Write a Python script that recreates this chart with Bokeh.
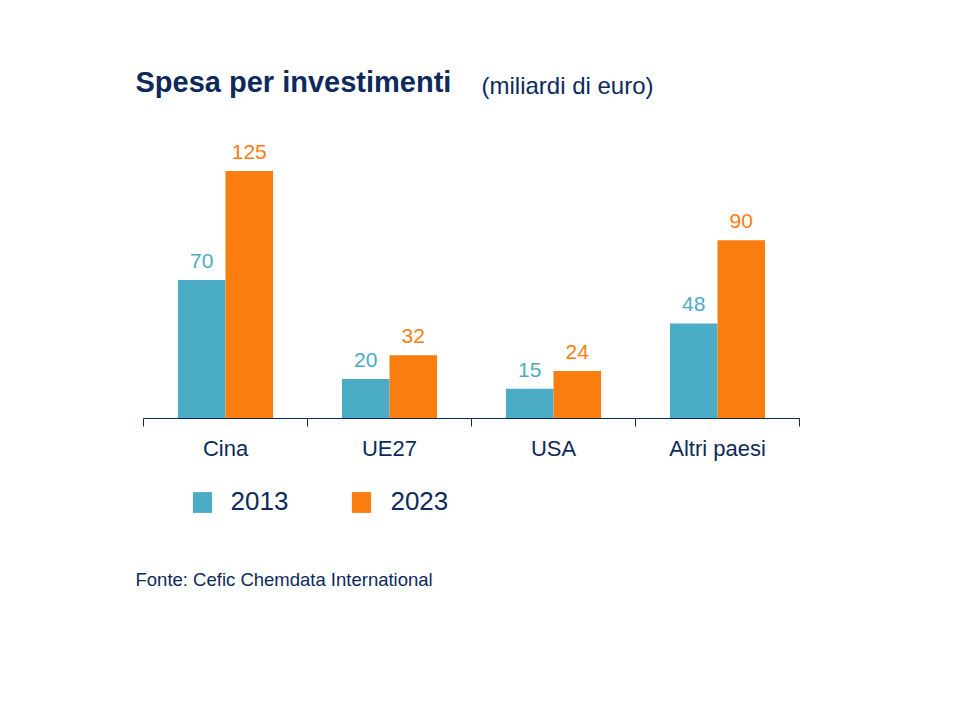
from bokeh.plotting import figure
from bokeh.models import (Range1d, LinearAxis, FixedTicker,
                          ColumnDataSource, Label, Legend, LegendItem)
from bokeh.core.properties import value
from bokeh.embed import file_html
from bokeh.resources import INLINE

# ---- data ----
categories = ["Cina", "UE27", "USA", "Altri paesi"]
years = ["2013", "2023"]
values_2013 = [70, 20, 15, 48]
values_2023 = [125, 32, 24, 90]

title_text = "Spesa per investimenti"
subtitle_text = "(miliardi di euro)"
source_text = "Fonte: Cefic Chemdata International"

# ---- style ----
TEAL = "#4BACC6"
ORANGE = "#FA7D10"
NAVY = "#0E2A5C"
FONT = "Liberation Sans"

W, H = 960, 720
AX_L, AX_R, BASE_Y = 143, 799, 418   # pixel positions of the category axis
PX_PER_UNIT = 1.98
n = len(categories)
cat_w = (AX_R - AX_L) / n


def xd(px):
    return (px - AX_L) / cat_w


def yd(py):
    return (BASE_Y - py) / PX_PER_UNIT


off = 0.145
bw = 0.29
centers = [i + 0.5 for i in range(n)]

src = ColumnDataSource(dict(
    x13=[c - off for c in centers],
    x23=[c + off for c in centers],
    v13=values_2013,
    v23=values_2023,
    t13=[str(v) for v in values_2013],
    t23=[str(v) for v in values_2023],
))

p = figure(width=W, height=H,
           x_range=Range1d(xd(0), xd(W)),
           y_range=Range1d(yd(H), yd(0)),
           x_axis_location=None, y_axis_location=None,
           min_border=0, min_border_left=0, min_border_right=0,
           min_border_top=0, min_border_bottom=0,
           outline_line_color=None, toolbar_location=None,
           output_backend="svg",
           background_fill_color="white", border_fill_color="white")
p.xgrid.visible = False
p.ygrid.visible = False

r13 = p.vbar(x="x13", top="v13", width=bw, source=src,
             fill_color=TEAL, line_color=None)
r23 = p.vbar(x="x23", top="v23", width=bw, source=src,
             fill_color=ORANGE, line_color=None)

p.text(x="x13", y="v13", text="t13", source=src,
       text_color=TEAL, text_font=value(FONT), text_font_size="21px",
       text_align="center", text_baseline="alphabetic", y_offset=-19)
p.text(x="x23", y="v23", text="t23", source=src,
       text_color=ORANGE, text_font=value(FONT), text_font_size="21px",
       text_align="center", text_baseline="alphabetic", y_offset=-19)

# axis line with ticks at category boundaries, fixed at value 0
edges = list(range(n + 1))
edge_axis = LinearAxis(fixed_location=0, bounds=(0, n), ticker=FixedTicker(ticks=edges),
                       major_tick_in=0, major_tick_out=8,
                       minor_tick_in=0, minor_tick_out=0,
                       axis_line_color=NAVY, major_tick_line_color=NAVY,
                       major_label_overrides={e: "" for e in edges},
                       major_label_standoff=0, major_label_text_font_size="1px")
# category labels at category centres
cat_axis = LinearAxis(fixed_location=0, bounds=(0, n), ticker=FixedTicker(ticks=centers),
                      major_label_overrides={c: lab for c, lab in zip(centers, categories)},
                      axis_line_color=None, major_tick_line_color=None,
                      minor_tick_line_color=None,
                      major_tick_in=0, major_tick_out=0, minor_tick_in=0, minor_tick_out=0,
                      major_label_text_font=FONT, major_label_text_font_size="22px",
                      major_label_text_color=NAVY, major_label_standoff=17)
p.add_layout(edge_axis, "below")
p.add_layout(cat_axis, "below")

legend = Legend(items=[LegendItem(label=years[0], renderers=[r13]),
                       LegendItem(label=years[1], renderers=[r23])],
                orientation="horizontal", location=(189.6, 203.0),
                glyph_width=24, glyph_height=26, label_standoff=17, spacing=61,
                padding=0, margin=0, border_line_color=None, background_fill_alpha=0,
                label_text_font=FONT, label_text_font_size="26px",
                label_text_color=NAVY, label_height=26)
p.add_layout(legend)

SHIFT = 8  # compensation for baseline placement
p.add_layout(Label(x=xd(135), y=yd(89 - SHIFT), text=title_text, text_font=FONT,
                   text_font_size="29px", text_font_style="bold", text_color=NAVY,
                   text_baseline="alphabetic", text_align="left"))
p.add_layout(Label(x=xd(481), y=yd(92.5 - SHIFT), text=subtitle_text, text_font=FONT,
                   text_font_size="24px", text_color=NAVY,
                   text_baseline="alphabetic", text_align="left"))
p.add_layout(Label(x=xd(135), y=yd(584.5 - SHIFT * 0.7), text=source_text, text_font=FONT,
                   text_font_size="18.5px", text_color=NAVY,
                   text_baseline="alphabetic", text_align="left"))

open("out.html", "w").write(file_html(p, INLINE))
